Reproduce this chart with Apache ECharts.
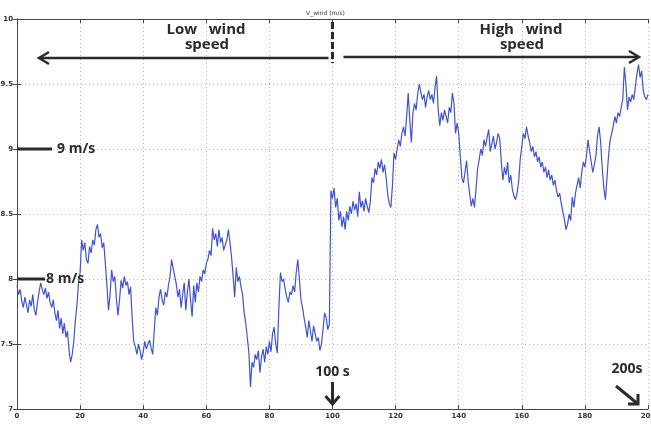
<!DOCTYPE html>
<html>
<head>
<meta charset="utf-8">
<script src="https://cdn.jsdelivr.net/npm/echarts@6/dist/echarts.min.js"></script>
<style>
  html, body { margin: 0; padding: 0; background: #ffffff; }
  #chart { width: 651px; height: 424px; }
</style>
</head>
<body>
<div id="chart"></div>
<script>
// Wind speed record, one sample every 0.5 s (m/s)
const timeStep = 0.5;

const wind000to050 = [
  7.95, 7.88, 7.92, 7.83, 7.78, 7.86, 7.80, 7.74, 7.84, 7.79,
  7.88, 7.76, 7.72, 7.82, 7.90, 7.97, 7.92, 7.88, 7.93, 7.85,
  7.90, 7.82, 7.78, 7.84, 7.74, 7.68, 7.76, 7.62, 7.70, 7.58,
  7.66, 7.55, 7.60, 7.45, 7.36, 7.42, 7.52, 7.68, 7.80, 7.97,
  8.05, 8.30, 8.22, 8.28, 8.15, 8.12, 8.25, 8.20, 8.30, 8.26,
  8.38, 8.42, 8.32, 8.35, 8.24, 8.28, 8.12, 7.95, 7.76, 7.88,
  8.07, 7.98, 8.02, 7.85, 7.72, 7.84, 7.99, 7.93, 8.02, 7.95,
  7.98, 7.88, 7.94, 7.70, 7.52, 7.48, 7.42, 7.50, 7.45, 7.38,
  7.44, 7.52, 7.46, 7.50, 7.53, 7.47, 7.42, 7.60, 7.78, 7.72,
  7.86, 7.92, 7.84, 7.80, 7.90, 7.86, 7.95, 8.02, 8.15, 8.08
];

const wind050to100 = [
  8.02, 7.96, 7.86, 7.92, 7.78, 7.88, 7.97, 7.76, 7.90, 8.00,
  7.84, 7.71, 7.95, 7.82, 7.97, 7.90, 8.02, 7.98, 8.07, 8.04,
  8.12, 8.15, 8.22, 8.18, 8.39, 8.30, 8.35, 8.25, 8.38, 8.28,
  8.32, 8.22, 8.26, 8.30, 8.38, 8.28, 8.17, 8.02, 7.86, 8.09,
  7.98, 8.02, 7.94, 7.88, 7.74, 7.66, 7.55, 7.43, 7.17, 7.36,
  7.32, 7.42, 7.38, 7.45, 7.28, 7.40, 7.46, 7.36, 7.48, 7.42,
  7.52, 7.44, 7.58, 7.63, 7.50, 7.43, 7.78, 8.05, 7.98, 8.00,
  7.92, 7.86, 7.82, 7.90, 7.88, 7.95, 7.90, 8.05, 8.15, 8.00,
  7.84, 7.78, 7.70, 7.63, 7.55, 7.68, 7.60, 7.52, 7.64, 7.58,
  7.52, 7.55, 7.45, 7.50, 7.61, 7.74, 7.70, 7.61, 7.65, 8.68
];

const wind100to150 = [
  8.62, 8.70, 8.55, 8.62, 8.45, 8.52, 8.40, 8.48, 8.38, 8.52,
  8.45, 8.56, 8.50, 8.60, 8.53, 8.58, 8.48, 8.67, 8.55, 8.60,
  8.52, 8.62, 8.56, 8.51, 8.60, 8.78, 8.74, 8.85, 8.80, 8.90,
  8.85, 8.92, 8.82, 8.88, 8.78, 8.65, 8.58, 8.55, 8.72, 8.97,
  8.92, 9.00, 9.07, 9.02, 9.12, 9.17, 9.10, 9.25, 9.43, 9.22,
  9.05, 9.28, 9.35, 9.30, 9.42, 9.50, 9.44, 9.38, 9.42, 9.32,
  9.40, 9.45, 9.38, 9.42, 9.35, 9.48, 9.56, 9.30, 9.18, 9.28,
  9.22, 9.30, 9.25, 9.20, 9.32, 9.28, 9.43, 9.35, 9.12, 9.20,
  9.12, 8.95, 8.78, 8.74, 8.82, 8.91, 8.75, 8.65, 8.56, 8.62,
  8.55, 8.70, 8.85, 8.92, 9.00, 8.95, 9.07, 9.02, 9.09, 9.15
];

const wind150to200 = [
  8.98, 9.04, 9.10, 9.00, 9.05, 9.12, 9.08, 8.90, 8.76, 8.86,
  8.80, 8.90, 8.74, 8.80, 8.69, 8.64, 8.61, 8.66, 8.75, 8.92,
  9.02, 9.12, 9.08, 9.17, 9.10, 9.05, 8.98, 9.02, 8.94, 8.98,
  8.90, 8.94, 8.86, 8.90, 8.82, 8.86, 8.78, 8.84, 8.76, 8.80,
  8.72, 8.76, 8.68, 8.63, 8.66, 8.58, 8.52, 8.46, 8.38, 8.42,
  8.50, 8.45, 8.63, 8.55, 8.66, 8.72, 8.78, 8.70, 8.82, 8.90,
  8.86, 8.95, 9.07, 8.98, 8.90, 8.82, 8.88, 8.95, 9.10, 9.17,
  9.05, 8.85, 8.70, 8.61, 8.78, 8.95, 9.07, 9.12, 9.18, 9.25,
  9.20, 9.28, 9.25, 9.32, 9.38, 9.63, 9.50, 9.30, 9.40, 9.36,
  9.42, 9.38, 9.48, 9.58, 9.65, 9.55, 9.60, 9.45, 9.40, 9.38,
  9.42
];

// Axis ticks
const xTicks = [0, 20, 40, 60, 80, 100, 120, 140, 160, 180, 200];
const yTicks = [7, 7.5, 8, 8.5, 9, 9.5, 10];

const windSpeed = [].concat(wind000to050, wind050to100, wind100to150, wind150to200);
const seriesData = windSpeed.map((v, i) => [i * timeStep, v]);

const chart = echarts.init(document.getElementById('chart'));

const labelStyle = { fontSize: 7, color: '#333', fontFamily: 'DejaVu Sans', fontWeight: 'bold' };
const tickStyle = { show: true, inside: true, length: 4, lineStyle: { color: '#444', width: 1 } };
const gridLine = { show: true, lineStyle: { color: '#b8b8b8', type: [1, 3], width: 1 } };
const axisLine = { show: true, lineStyle: { color: '#444', width: 1 } };

chart.setOption({
  animation: false,
  backgroundColor: '#ffffff',
  title: {
    text: 'V_wind (m/s)',
    left: 'center',
    top: 5,
    textStyle: { fontSize: 6, fontWeight: 'normal', color: '#333', fontFamily: 'DejaVu Sans' }
  },
  grid: { left: 17, right: 3, top: 19, bottom: 15, containLabel: false, outerBoundsMode: 'none' },
  xAxis: [
    {
      type: 'value', min: xTicks[0], max: xTicks[xTicks.length - 1], interval: 20,
      axisLine, axisTick: tickStyle, splitLine: gridLine,
      axisLabel: Object.assign({ margin: 4 }, labelStyle)
    },
    {
      type: 'value', position: 'top', min: 0, max: 200, interval: 20,
      axisLine, axisTick: tickStyle, splitLine: { show: false }, axisLabel: { show: false }
    }
  ],
  yAxis: [
    {
      type: 'value', min: yTicks[0], max: yTicks[yTicks.length - 1], interval: 0.5,
      axisLine, axisTick: tickStyle, splitLine: gridLine,
      axisLabel: Object.assign({ margin: 4 }, labelStyle)
    },
    {
      type: 'value', position: 'right', min: 7, max: 10, interval: 0.5,
      axisLine, axisTick: tickStyle, splitLine: { show: false }, axisLabel: { show: false }
    }
  ],
  series: [{
    type: 'line',
    data: seriesData,
    showSymbol: false,
    symbol: 'none',
    lineStyle: { color: '#4252d4', width: 1.2 },
    z: 3
  }]
});

// Annotations placed relative to the axes
const px = (x, y) => chart.convertToPixel({ gridIndex: 0 }, [x, y]);
const ink = '#2b2b2b';
const boldText = (text, x, y, size, align) => ({
  type: 'text', z: 10,
  style: {
    text, x, y, fill: ink, fontSize: size, fontWeight: 'bold',
    fontFamily: 'Open Sans', textAlign: align || 'center', textVerticalAlign: 'middle'
  }
});
const seg = (x1, y1, x2, y2, w) => ({
  type: 'line', z: 10,
  shape: { x1, y1, x2, y2 },
  style: { stroke: ink, lineWidth: w || 2.5, lineCap: 'butt' }
});
const head = (pts, w) => ({
  type: 'polyline', z: 10,
  shape: { points: pts },
  style: { stroke: ink, lineWidth: w || 2.5, fill: null, lineJoin: 'miter' }
});

const p9 = px(0, 9), p8 = px(0, 8);
const p100 = px(100, 7), p200 = px(200, 7);
const yArrow = 58;

const graphics = [
  // region labels
  boldText('Low   wind', 206, 30, 15),
  boldText('speed', 207, 45, 15),
  boldText('High   wind', 521, 30, 15),
  boldText('speed', 522, 45, 15),
  // left arrow (low wind range)
  seg(40, yArrow, p100[0] - 4, yArrow),
  head([[49, yArrow - 6], [39, yArrow], [49, yArrow + 6]]),
  // right arrow (high wind range)
  seg(p100[0] + 11, yArrow - 1, p200[0] - 10, yArrow - 1),
  head([[p200[0] - 19, yArrow - 7], [p200[0] - 9, yArrow - 1], [p200[0] - 19, yArrow + 5]]),
  // dashed separator at 100 s
  {
    type: 'line', z: 10,
    shape: { x1: p100[0], y1: 22, x2: p100[0], y2: 63 },
    style: { stroke: ink, lineWidth: 3, lineDash: [7, 3] }
  },
  // 9 m/s marker
  seg(p9[0], p9[1], p9[0] + 35, p9[1], 3),
  boldText('9 m/s', p9[0] + 40, p9[1], 14, 'left'),
  // 8 m/s marker
  seg(p8[0], p8[1], p8[0] + 28, p8[1], 3),
  boldText('8 m/s', p8[0] + 29, p8[1], 14, 'left'),
  // 100 s marker
  boldText('100 s', p100[0], 372, 14),
  seg(p100[0], 382, p100[0], 404, 3),
  head([[p100[0] - 7, 396], [p100[0], 404], [p100[0] + 7, 396]], 3),
  // 200 s marker
  boldText('200s', p200[0] - 21, 369, 14),
  seg(p200[0] - 32, 386, p200[0] - 10, 404, 3),
  head([[p200[0] - 10, 394], [p200[0] - 10, 404], [p200[0] - 20, 404]], 3)
];

chart.setOption({ graphic: graphics });
</script>
</body>
</html>
